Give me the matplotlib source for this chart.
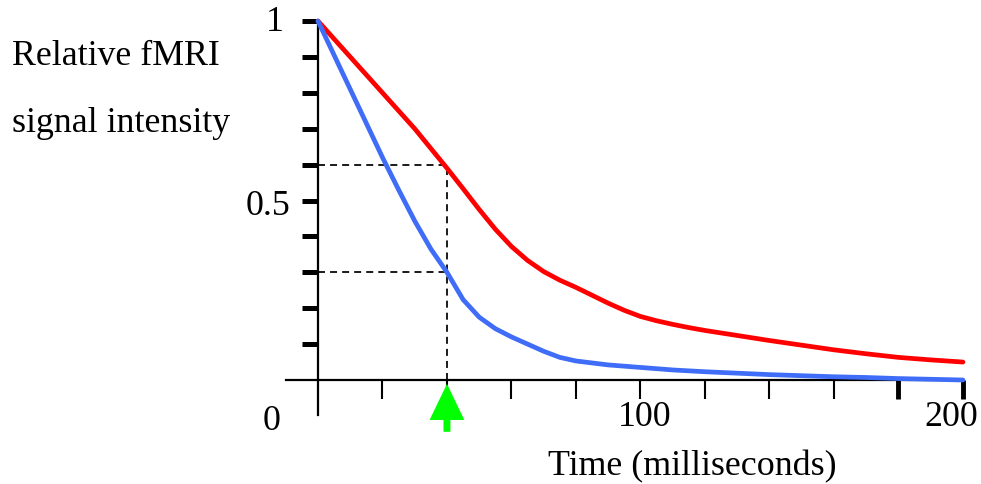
import matplotlib
matplotlib.use('Agg')
import matplotlib.pyplot as plt
from matplotlib.patches import FancyArrowPatch

# values
red_t = [0, 5, 10, 15, 20, 25, 30, 35, 40, 45, 50, 55, 60, 65, 70, 75, 80, 85, 90, 95,
         100, 105, 110, 115, 120, 130, 140, 150, 160, 170, 180, 190, 200]
red_signal = [1.0, 0.95, 0.90, 0.85, 0.80, 0.75, 0.70, 0.645, 0.59, 0.533, 0.475, 0.42,
              0.372, 0.333, 0.302, 0.278, 0.258, 0.236, 0.214, 0.194, 0.177, 0.165, 0.155,
              0.146, 0.138, 0.124, 0.11, 0.097, 0.084, 0.073, 0.063, 0.056, 0.05]
blue_t = [0, 5, 10, 15, 20, 25, 30, 35, 40, 45, 50, 55, 60, 65, 70, 75, 80, 90,
          100, 110, 120, 130, 140, 150, 160, 170, 180, 190, 200]
blue_signal = [1.0, 0.905, 0.81, 0.715, 0.62, 0.53, 0.443, 0.365, 0.30, 0.224, 0.175, 0.143,
               0.12, 0.10, 0.08, 0.063, 0.053, 0.042, 0.035, 0.028, 0.023, 0.019, 0.015,
               0.012, 0.009, 0.007, 0.004, 0.002, 0.0]
echo_time = 40
red_at_te = 0.6
blue_at_te = 0.3
x_ticks = [20, 40, 60, 80, 100, 120, 140, 160, 180, 200]
y_ticks = [0.1, 0.2, 0.3, 0.4, 0.5, 0.6, 0.7, 0.8, 0.9, 1.0]

plt.rcParams['font.family'] = ['Liberation Serif', 'DejaVu Serif']
fs = 25.8

fig = plt.figure(figsize=(9.81, 4.85), dpi=100)
ax = fig.add_axes([0, 0, 1, 1])
ax.set_xlim(-98.6, 205.6)
ax.set_ylim(-0.2897, 1.0613)
ax.patch.set_visible(False)

ax.spines['top'].set_visible(False)
ax.spines['right'].set_visible(False)
ax.spines['left'].set_position(('data', 0))
ax.spines['bottom'].set_position(('data', 0))
ax.spines['left'].set_bounds(-0.097, 1.0)
ax.spines['bottom'].set_bounds(-10, 200)
ax.spines['left'].set_linewidth(1.6)
ax.spines['bottom'].set_linewidth(1.6)

ax.set_xticks(x_ticks)
ax.set_yticks(y_ticks)
ax.tick_params(axis='x', direction='out', length=14, width=1.5, labelbottom=False)
ax.tick_params(axis='y', direction='out', length=11.5, width=3.6, labelleft=False)
for i in (8, 9):
    ax.xaxis.get_major_ticks()[i].tick1line.set_markeredgewidth(3.5)

ax.plot(red_t, red_signal, color='#ff0000', lw=3.4, zorder=3,
        solid_capstyle='round', solid_joinstyle='round')
ax.plot(blue_t, blue_signal, color='#3f6df7', lw=3.4, zorder=3,
        solid_capstyle='round', solid_joinstyle='round')

dash = dict(color='#1a1a1a', lw=1.4, dashes=(3.6, 2.6), zorder=2)
ax.plot([0, echo_time], [red_at_te, red_at_te], **dash)
ax.plot([0, echo_time], [blue_at_te, blue_at_te], **dash)
ax.plot([echo_time, echo_time], [0, red_at_te], **dash)

arrow = FancyArrowPatch((echo_time, -0.152), (echo_time, -0.003),
                        arrowstyle='simple,head_length=26,head_width=25,tail_width=5',
                        mutation_scale=1, color='#00ff00', lw=0, zorder=4)
ax.add_patch(arrow)

ax.text(-14.3, -0.114, '0', fontsize=fs, ha='center', va='center')
ax.text(-8.7, 0.487, '0.5', fontsize=fs, ha='right', va='center')
ax.text(-13.3, 1.0, '1', fontsize=fs, ha='center', va='center')
ax.text(101.4, -0.103, '100', fontsize=fs, ha='center', va='center')
ax.text(196.3, -0.103, '200', fontsize=fs, ha='center', va='center')
ax.text(116, -0.24, 'Time (milliseconds)', fontsize=fs, ha='center', va='center')

fig.text(12 / 981, 420 / 485, 'Relative fMRI', fontsize=fs, ha='left', va='baseline')
fig.text(12 / 981, 353 / 485, 'signal intensity', fontsize=fs, ha='left', va='baseline')

fig.savefig('out.png', dpi=100)
